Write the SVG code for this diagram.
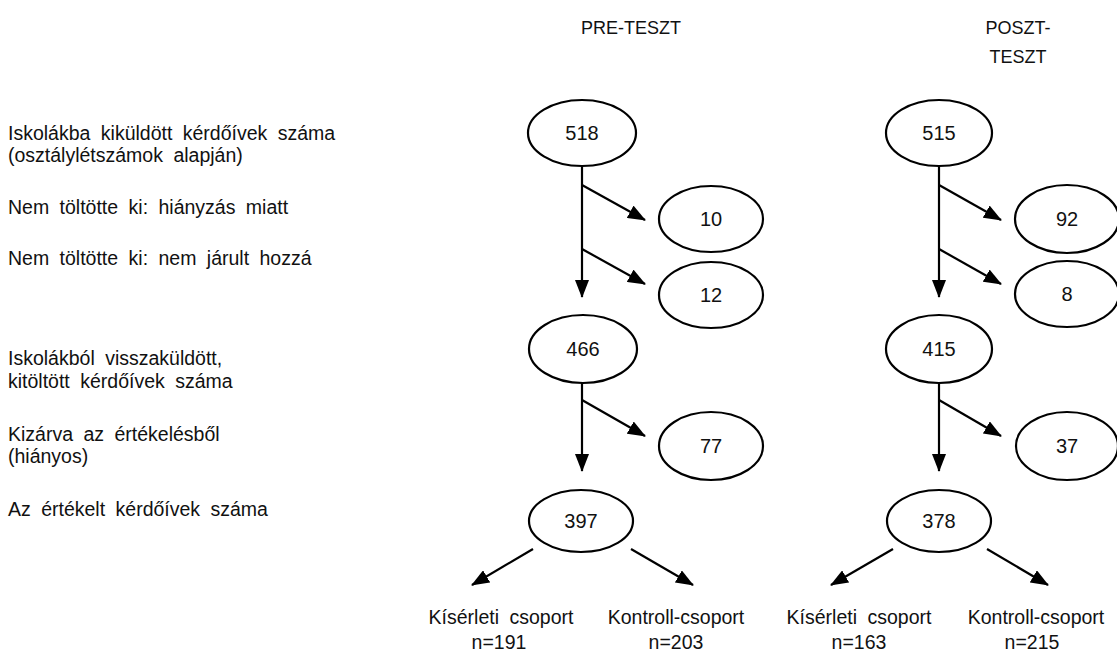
<svg xmlns="http://www.w3.org/2000/svg" width="1117" height="651" viewBox="0 0 1117 651">
<style>
text{font-family:"Liberation Sans",Arial,sans-serif;fill:#111;}
.lbl{font-size:19.5px;word-spacing:5px;}
.hd{font-size:18px;text-anchor:middle;}
.num{font-size:20px;text-anchor:middle;}
.grp{font-size:19.5px;text-anchor:middle;}
ellipse{fill:#fff;stroke:#000;stroke-width:2.2;}
.c line{stroke:#000;stroke-width:2.2;marker-end:url(#ah);}
</style>
<defs>
<marker id="ah" markerUnits="userSpaceOnUse" markerWidth="18" markerHeight="14" refX="17" refY="7" orient="auto">
<path d="M0,0 L18,7 L0,14 z" fill="#000"/>
</marker>
</defs>
<rect width="1117" height="651" fill="#fff"/>
<g id="headers">
<text class="hd" x="631" y="34">PRE-TESZT</text>
<text class="hd" x="1018" y="34">POSZT-</text>
<text class="hd" x="1018" y="63">TESZT</text>
</g>
<g id="row-labels">
<text class="lbl" x="8" y="140">Iskolákba kiküldött kérdőívek száma</text>
<text class="lbl" x="8" y="162">(osztálylétszámok alapján)</text>
<text class="lbl" x="8" y="214">Nem töltötte ki: hiányzás miatt</text>
<text class="lbl" x="8" y="265">Nem töltötte ki: nem járult hozzá</text>
<text class="lbl" x="8" y="365">Iskolákból visszaküldött,</text>
<text class="lbl" x="8" y="388">kitöltött kérdőívek száma</text>
<text class="lbl" x="8" y="441">Kizárva az értékelésből</text>
<text class="lbl" x="8" y="463">(hiányos)</text>
<text class="lbl" x="8" y="516">Az értékelt kérdőívek száma</text>
</g>
<g class="c" id="connectors">
<line x1="582" y1="166" x2="582" y2="297"/>
<line x1="582" y1="185" x2="645" y2="220"/>
<line x1="582" y1="249" x2="645" y2="284"/>
<line x1="582" y1="383" x2="582" y2="471"/>
<line x1="582" y1="400" x2="645" y2="436"/>
<line x1="533" y1="549" x2="472" y2="585"/>
<line x1="631" y1="549" x2="693" y2="585"/>
<line x1="939" y1="166" x2="939" y2="297"/>
<line x1="939" y1="185" x2="1001" y2="220"/>
<line x1="939" y1="249" x2="1001" y2="284"/>
<line x1="939" y1="383" x2="939" y2="471"/>
<line x1="939" y1="400" x2="1001" y2="436"/>
<line x1="893" y1="549" x2="831" y2="585"/>
<line x1="987" y1="549" x2="1048" y2="585"/>
</g>
<g id="n518"><ellipse cx="582" cy="133" rx="54" ry="33"/><text class="num" x="582" y="140">518</text></g>
<g id="n10"><ellipse cx="711" cy="219" rx="52" ry="33"/><text class="num" x="711" y="226">10</text></g>
<g id="n12"><ellipse cx="711" cy="295" rx="52" ry="33"/><text class="num" x="711" y="302">12</text></g>
<g id="n466"><ellipse cx="583" cy="349" rx="54" ry="34"/><text class="num" x="583" y="356">466</text></g>
<g id="n77"><ellipse cx="711" cy="446" rx="52" ry="34"/><text class="num" x="711" y="453">77</text></g>
<g id="n397"><ellipse cx="581" cy="521" rx="52" ry="31"/><text class="num" x="581" y="528">397</text></g>
<g id="n515"><ellipse cx="939" cy="133" rx="53" ry="33"/><text class="num" x="939" y="140">515</text></g>
<g id="n92"><ellipse cx="1067" cy="219" rx="52" ry="34"/><text class="num" x="1067" y="226">92</text></g>
<g id="n8"><ellipse cx="1067" cy="294" rx="52" ry="33"/><text class="num" x="1067" y="301">8</text></g>
<g id="n415"><ellipse cx="939" cy="349" rx="53" ry="34"/><text class="num" x="939" y="356">415</text></g>
<g id="n37"><ellipse cx="1067" cy="446" rx="51" ry="34"/><text class="num" x="1067" y="453">37</text></g>
<g id="n378"><ellipse cx="939" cy="521" rx="52" ry="31"/><text class="num" x="939" y="528">378</text></g>
<g id="groups">
<text class="grp" x="501" y="624" word-spacing="5">Kísérleti csoport</text>
<text class="grp" x="499" y="649">n=191</text>
<text class="grp" x="676" y="624">Kontroll-csoport</text>
<text class="grp" x="676" y="649">n=203</text>
<text class="grp" x="859" y="624" word-spacing="5">Kísérleti csoport</text>
<text class="grp" x="859" y="649">n=163</text>
<text class="grp" x="1036" y="624">Kontroll-csoport</text>
<text class="grp" x="1032" y="649">n=215</text>
</g>
</svg>
